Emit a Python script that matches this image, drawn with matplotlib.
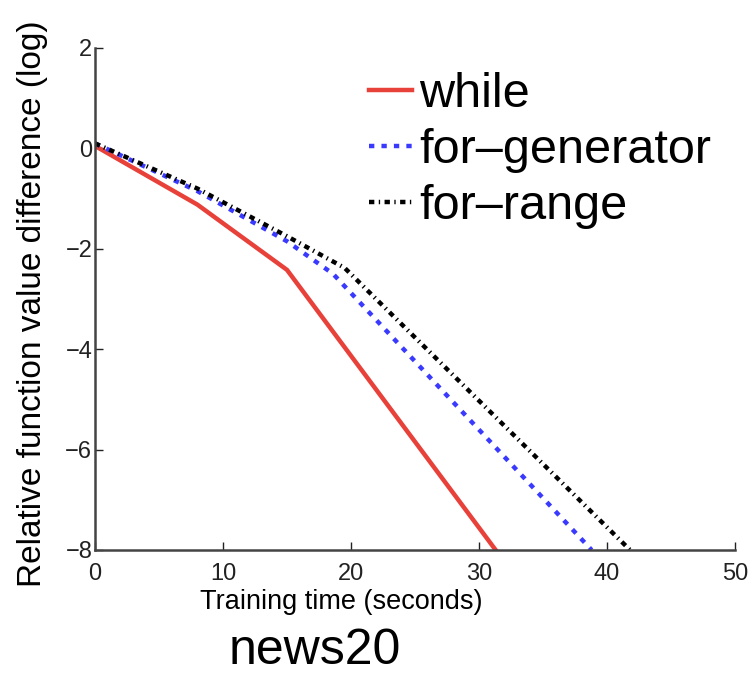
import matplotlib
matplotlib.use('Agg')
import matplotlib.pyplot as plt

# training time (seconds) vs relative function value difference (log)
while_t = [0, 8, 15, 31.3]
while_v = [0.05, -1.12, -2.42, -8]

gen_t = [0, 8, 15, 18.6, 38.8]
gen_v = [0.1, -0.85, -1.85, -2.5, -8]

range_t = [0, 8, 15, 19.5, 41.8]
range_v = [0.1, -0.8, -1.75, -2.38, -8]

labels = ['while', 'for\u2013generator', 'for\u2013range']

plt.rcParams['font.family'] = ['Liberation Sans', 'DejaVu Sans']

fig = plt.figure(figsize=(7.49, 6.78), dpi=100)
ax = fig.add_axes([95/749, 128/678, 640/749, 502/678])

ax.plot(while_t, while_v, color='#e8413a', lw=3.2, label=labels[0])
ax.plot(gen_t, gen_v, color='#3a3aff', lw=3.2, ls=(0, (1.2, 1.6)), label=labels[1])
ax.plot(range_t, range_v, color='black', lw=3.2, ls=(0, (1.2, 1.0, 0.3, 1.0)), label=labels[2])

ax.set_xlim(0, 50)
ax.set_ylim(-8, 2)
ax.set_xticks([0, 10, 20, 30, 40, 50])
ax.set_yticks([-8, -6, -4, -2, 0, 2])
ax.tick_params(direction='in', length=6, width=1, labelsize=17, colors='#222222', pad=2)
ax.tick_params(axis='x', pad=9)
for s in ['top', 'right']:
    ax.spines[s].set_visible(False)
for s in ['left', 'bottom']:
    ax.spines[s].set_linewidth(1.8)
    ax.spines[s].set_color('#444444')

ax.set_xlabel('Training time (seconds)', fontsize=19.5)
ax.xaxis.set_label_coords(0.384, -0.078)
ax.set_ylabel('Relative function value difference (log)', fontsize=24)
ax.yaxis.set_label_coords(-0.073, 0.49)

ax.legend(loc='upper left', bbox_to_anchor=(0.397, 0.99), frameon=False, fontsize=35,
          handlelength=0.9, handletextpad=0.15, labelspacing=0.22, borderaxespad=0)

fig.text(315/749, 27/678, 'news20', fontsize=36, ha='center', va='center')

plt.savefig('out.png', dpi=100)
